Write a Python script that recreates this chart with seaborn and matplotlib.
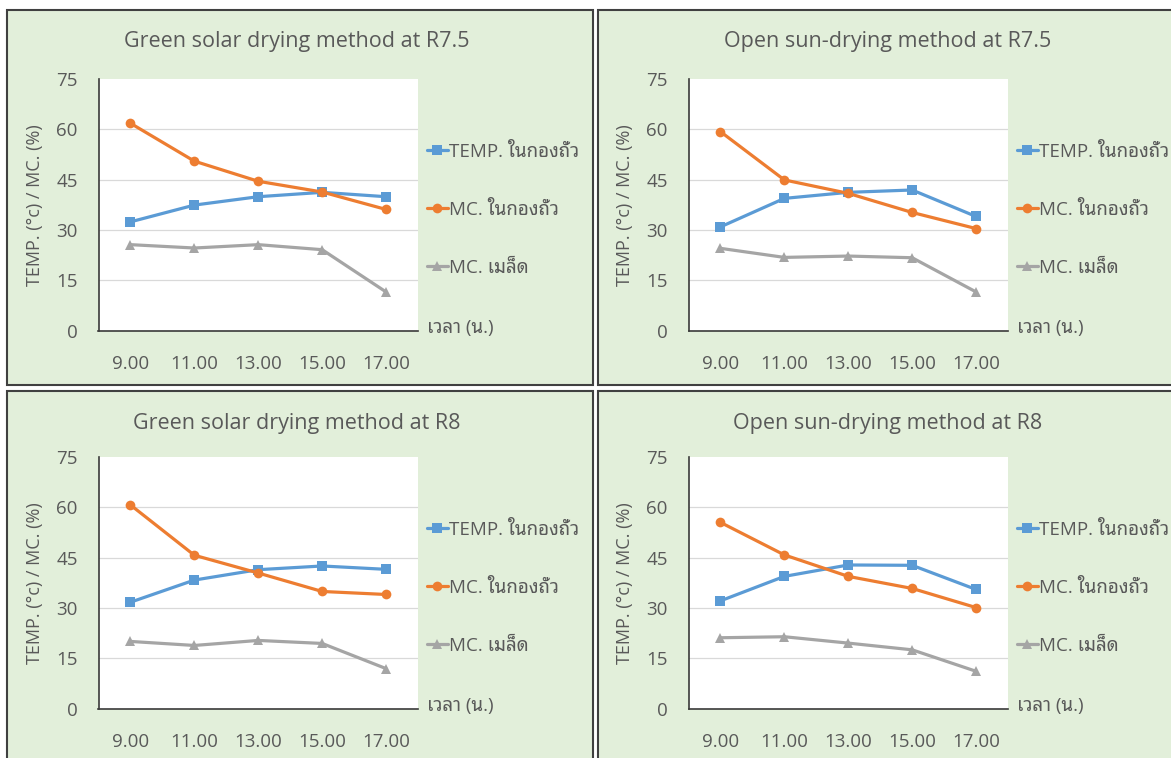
import matplotlib
matplotlib.use("Agg")
import matplotlib.pyplot as plt
from matplotlib.patches import Rectangle
import pandas as pd
import seaborn as sns

# data
times = ["9.00", "11.00", "13.00", "15.00", "17.00"]
series_names = ["TEMP. ในกองถั่ว", "MC. ในกองถั่ว", "MC. เมล็ด"]
titles = [
    "Green solar drying method at R7.5",
    "Open sun-drying method at R7.5",
    "Green solar drying method at R8",
    "Open sun-drying method at R8",
]

green_r75_temp = [32.4, 37.4, 39.9, 41.2, 39.9]
green_r75_mc_pile = [61.8, 50.5, 44.5, 41.3, 36.1]
green_r75_mc_seed = [25.6, 24.6, 25.6, 24.1, 11.5]

open_r75_temp = [30.9, 39.4, 41.2, 41.9, 34.0]
open_r75_mc_pile = [59.3, 44.9, 40.9, 35.2, 30.4]
open_r75_mc_seed = [24.5, 21.8, 22.2, 21.7, 11.5]

green_r8_temp = [31.7, 38.3, 41.4, 42.5, 41.5]
green_r8_mc_pile = [60.7, 45.7, 40.4, 34.9, 34.0]
green_r8_mc_seed = [20.0, 18.8, 20.3, 19.4, 11.9]

open_r8_temp = [32.1, 39.4, 42.8, 42.7, 35.5]
open_r8_mc_pile = [55.5, 45.8, 39.4, 35.8, 30.1]
open_r8_mc_seed = [21.1, 21.4, 19.5, 17.5, 11.1]

panels = [
    (green_r75_temp, green_r75_mc_pile, green_r75_mc_seed),
    (open_r75_temp, open_r75_mc_pile, open_r75_mc_seed),
    (green_r8_temp, green_r8_mc_pile, green_r8_mc_seed),
    (open_r8_temp, open_r8_mc_pile, open_r8_mc_seed),
]

colors = ["#5B9BD5", "#ED7D31", "#A5A5A5"]
markers = ["s", "o", "^"]
text_col = "#595959"
panel_bg = "#E2EFDA"

sns.set_theme(style="white")
plt.rcParams["font.family"] = ["Open Sans", "Noto Sans Thai Looped", "Sarabun",
                               "Noto Sans Thai", "Anuphan", "Athiti", "DejaVu Sans"]

W, H = 1171, 758
fig = plt.figure(figsize=(W / 100, H / 100), dpi=100)
fig.patch.set_facecolor("white")

# panel frames (pixel boxes: x0, y0 top, x1, y1 bottom)
frames = [(7, 10, 593, 385), (598, 10, 1190, 385), (7, 391, 593, 770), (598, 391, 1190, 770)]
# plot areas (left, top, right, bottom) in pixels
areas = [(98.5, 79, 418, 330.5), (688.5, 79, 1008, 330.5),
         (98.5, 457, 418, 708.5), (688.5, 457, 1008, 708.5)]

for i, (vals, title) in enumerate(zip(panels, titles)):
    fx0, fy0, fx1, fy1 = frames[i]
    fig.patches.append(Rectangle((fx0 / W, 1 - fy1 / H), (fx1 - fx0) / W, (fy1 - fy0) / H,
                                 transform=fig.transFigure, facecolor=panel_bg,
                                 edgecolor="#404040", linewidth=1.5, zorder=-5))
    fig.text((fx0 + 290) / W, 1 - (fy0 + 32) / H, title, ha="center", va="center",
             fontsize=15.5, color=text_col)

    l, t, r, b = areas[i]
    ax = fig.add_axes([l / W, 1 - b / H, (r - l) / W, (b - t) / H])
    ax.set_facecolor("white")

    df = pd.DataFrame({
        "time": times * 3,
        "value": vals[0] + vals[1] + vals[2],
        "series": [s for s in series_names for _ in times],
    })
    sns.lineplot(data=df, x="time", y="value", hue="series", style="series",
                 palette=colors, markers=markers, dashes=False, linewidth=2.3,
                 markersize=7, markeredgewidth=0, ax=ax, sort=False)

    ax.set_xlim(-0.5, 4.5)
    ax.set_ylim(0, 75)
    ax.set_yticks(range(0, 76, 15))
    ax.yaxis.grid(True, color="#D9D9D9", linewidth=0.9)
    ax.yaxis.get_gridlines()[-1].set_visible(False)
    ax.set_axisbelow(True)
    for s in ["top", "right"]:
        ax.spines[s].set_visible(False)
    for s in ["left", "bottom"]:
        ax.spines[s].set_color("#3a3a3a")
        ax.spines[s].set_linewidth(1.2)
    ax.tick_params(axis="x", length=0, pad=17.5, labelsize=13.5, labelcolor=text_col)
    ax.tick_params(axis="y", length=0, pad=15, labelsize=13.5, labelcolor=text_col)
    ax.set_xlabel("")
    ax.set_ylabel("TEMP. (°c) / MC. (%)", fontsize=13, color=text_col, labelpad=9)
    ax.text(1.028, 0.01, "เวลา (น.)", transform=ax.transAxes, ha="left", va="center",
            fontsize=13.5, color=text_col)

    leg = ax.legend(loc="center left", bbox_to_anchor=(1.028, 0.48), frameon=False,
                    borderaxespad=0, borderpad=0, handlelength=1.1, handletextpad=0.05,
                    labelspacing=2.12, fontsize=13.5)
    for txt in leg.get_texts():
        txt.set_color(text_col)

fig.savefig("out.png", dpi=100, facecolor="white")
